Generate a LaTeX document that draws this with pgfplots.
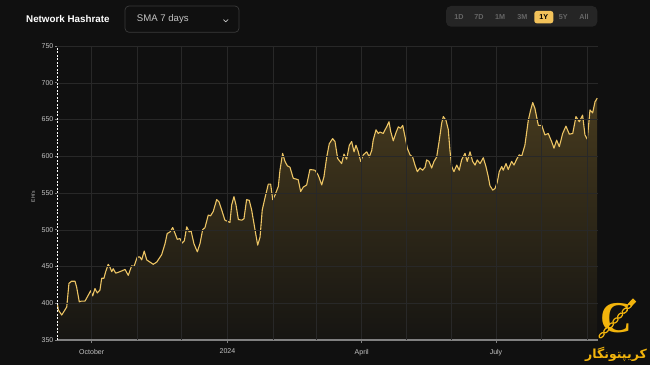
\documentclass[border=0pt]{standalone}
\usepackage{fontspec}
\setmainfont{Liberation Sans}
\newfontfamily\arabicfont[Script=Arabic]{DejaVu Sans}
\newfontfamily\serifC{Liberation Serif}
\TeXXeTstate=1
\usepackage{pgfplots}
\pgfplotsset{compat=1.18}
\usepackage{pgfplotstable}
\usetikzlibrary{calc}
\definecolor{bg}{HTML}{101010}
\definecolor{gridc}{HTML}{282828}
\definecolor{gold}{HTML}{ECC464}
\definecolor{ticklab}{HTML}{C4C4C4}
\definecolor{btnbg}{HTML}{252525}
\definecolor{btntext}{HTML}{666666}
\definecolor{btnsel}{HTML}{F2C25A}
\definecolor{wm}{HTML}{F2B40C}
\definecolor{filltop}{HTML}{463A1E}
\definecolor{fillbot}{HTML}{161512}
\definecolor{ddborder}{HTML}{3A3A3A}

\pgfplotstableread{
d v
-23.3 400
-22.6 391
-20.3 384
-18.1 391
-16.9 395
-15.4 427
-13.6 430
-11.3 430
-10.2 422
-8.4 402
-6.8 403
-4.5 403
-2.3 411
-0.7 417
0.7 410
2.2 420
3.8 414
5.6 418
6.8 434
8.3 434
9.5 443
11.2 453
12.4 449
13.6 443
14.6 447
16.3 441
19.2 443
22.6 446
24.8 438
27.1 451
28.7 450
30.9 463
32.7 463
33.9 459
35.6 471
37.3 459
39.5 456
41.7 453
44.1 456
47.4 466
49.7 481
51.2 495
53.1 497
54.9 503
56.5 495
58.0 487
59.8 488
61.4 482
62.8 485
64.4 504
66.1 497
67.3 499
69.3 481
71.6 470
73.4 481
75.2 500
76.8 503
79.0 520
80.6 519
82.4 525
84.7 541
86.3 538
88.1 527
90.3 513
93.7 510
94.9 534
96.4 545
97.8 534
99.4 514
101.7 513
103.2 515
105.0 541
106.8 540
108.4 527
110.7 500
112.5 479
114.1 490
115.6 527
117.4 543
119.7 562
121.3 562
122.7 541
124.2 547
126.5 559
127.6 581
129.4 604
131.0 593
132.6 587
134.4 585
136.6 570
138.5 569
140.0 568
141.6 552
143.4 558
145.7 561
147.9 582
151.3 581
153.6 574
155.9 561
157.4 572
159.3 599
161.0 617
163.3 624
164.9 620
166.7 597
169.4 590
171.0 603
172.8 596
174.6 615
176.2 620
177.8 606
179.1 615
180.7 606
182.3 593
184.1 602
186.4 606
188.1 599
189.8 608
190.8 622
192.7 636
194.2 631
195.4 633
197.6 631
198.8 636
199.9 640
201.5 647
202.6 634
204.4 621
206.2 632
207.8 640
209.4 638
210.8 642
212.3 627
213.9 611
215.7 602
217.5 599
219.1 588
220.7 579
222.5 584
224.3 581
225.9 585
227.0 595
228.6 593
230.4 584
232.0 593
233.8 599
235.6 622
237.2 645
238.3 654
240.1 649
241.7 636
242.8 608
244.0 586
245.5 579
247.4 588
249.1 581
250.7 595
253.0 604
254.5 593
256.4 606
258.2 593
259.8 588
261.3 595
263.2 590
265.4 598
267.2 586
268.8 572
269.9 560
271.8 554
273.3 556
274.9 565
276.2 579
277.9 586
278.9 581
280.8 590
282.3 582
284.6 593
286.2 588
288.0 596
289.8 602
291.4 600
293.6 615
295.9 649
297.5 663
298.9 673
300.4 665
302.7 642
305.0 642
307.2 629
309.4 631
311.7 620
313.3 611
315.1 622
316.9 613
319.2 631
321.4 641
323.7 630
326.0 631
328.2 654
330.5 647
332.7 656
334.3 629
335.9 623
337.7 663
339.5 659
341.1 674
342.6 679
}\hashdata

\begin{document}
\begin{tikzpicture}[x=1pt,y=1pt]
\useasboundingbox (0,0) rectangle (650,365);
\fill[bg] (0,0) rectangle (650,365);
% header
\node[anchor=west, text=white, font=\bfseries\fontsize{9.8}{11}\selectfont, inner sep=0] at (26,345.7) {Network Hashrate};
\draw[ddborder, fill=bg, line width=0.7pt, rounded corners=4pt] (125,359) rectangle (239,332.7);
\node[anchor=west, text=ticklab, font=\fontsize{9.6}{11}\selectfont, inner sep=0] at (136.7,345.7) {SMA 7 days};
\draw[ticklab, line width=0.7pt, line cap=round, line join=round] (223.6,345.3) -- (225.8,343.1) -- (228.0,345.3);
% range buttons
\fill[btnbg, rounded corners=5pt] (446,359) rectangle (597.3,338.3);
\fill[btnsel, rounded corners=2.5pt] (534.3,354) rectangle (553.3,341.7);
\foreach \px/\lab in {459/1D,479/7D,500/1M,522.3/3M,563.3/5Y,584/All}
  \node[text=btntext, font=\bfseries\fontsize{7.2}{8}\selectfont, inner sep=0] at (\px,348) {\lab};
\node[text=black, font=\bfseries\fontsize{7.2}{8}\selectfont, inner sep=0] at (543.8,348) {1Y};

\begin{axis}[
  at={(57pt,25pt)}, anchor=south west,
  width=540.5pt, height=294pt, scale only axis,
  xmin=-23.5, xmax=342.8, ymin=350, ymax=750,
  ytick={350,400,...,750},
  xtick={0,92,183,274}, xticklabels={October,2024,April,July},
  extra x ticks={31,61,123,152,213,244,305,336},
  extra x tick labels={},
  extra x tick style={xmajorgrids=true, tick style={draw=none}},
  xmajorgrids=true, ymajorgrids=true,
  major grid style={gridc, line width=0.5pt},
  axis x line=bottom, axis y line=left,
  axis line style={-},
  x axis line style={color=gray, line width=1.2pt},
  y axis line style={color=white, line width=0.6pt, dash pattern=on 2pt off 1.5pt},
  tick style={color=gray, line width=0.6pt},
  tick align=outside,
  major tick length=2.5pt,
  ticklabel style={font=\fontsize{7}{8}\selectfont, text=ticklab},
  y tick label style={inner sep=1pt},
  x tick label style={yshift=-3pt},
  /pgf/number format/assume math mode=true,
  ylabel={EH/s},
  ylabel style={font=\fontsize{5}{6}\selectfont, text=ticklab, at={(axis description cs:-0.0444,0.487)}, anchor=center},
  axis on top,
]
\addplot[draw=none, top color=filltop, bottom color=fillbot] table[x=d,y=v]{\hashdata} \closedcycle;
\addplot[gold, line width=1.1pt, line join=round] table[x=d,y=v]{\hashdata};
\end{axis}

% watermark logo
\node[text=wm, font=\serifC\bfseries\fontsize{44}{44}\selectfont, inner sep=0] at (616,47) {C};
\foreach \t in {0.08,0.22,...,0.95}
  \draw[wm, line width=1.2pt, fill=bg, rotate around={46:($(599,27)!\t!(632,62)$)}]
    ($(599,27)!\t!(632,62)$) ellipse (3.2pt and 1.8pt);
\fill[wm, rotate around={46:(632,62)}] (629,60) rectangle (636,64.5);
\node[text=wm, font=\arabicfont\bfseries\fontsize{12.5}{14}\selectfont, inner sep=0] at (616,11) {\beginR کریپتونگار\endR};
\end{tikzpicture}
\end{document}
